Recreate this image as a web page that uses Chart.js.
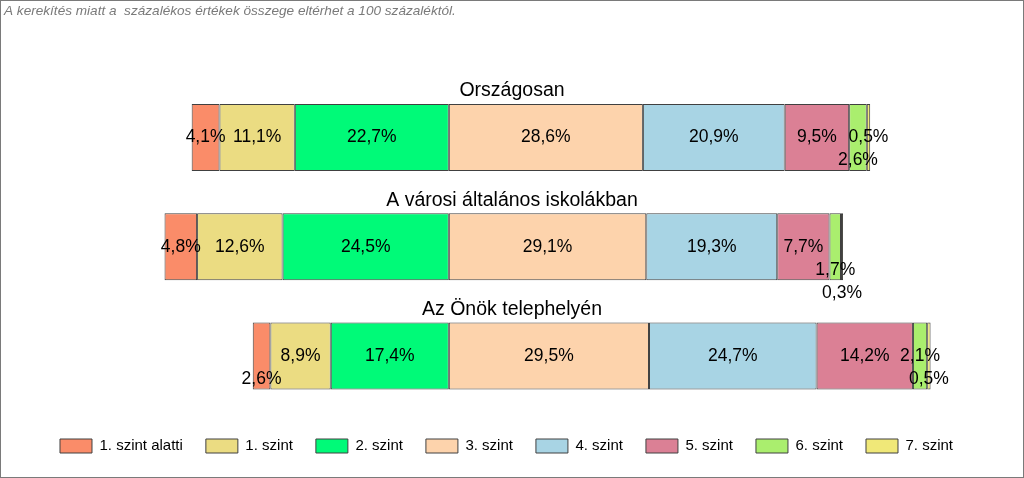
<!DOCTYPE html>
<html>
<head>
<meta charset="utf-8">
<script src="https://cdn.jsdelivr.net/npm/chart.js@4.4.0/dist/chart.umd.min.js"></script>
<style>
    html, body { margin: 0; padding: 0; background: #fff; }
    #wrap { width: 1024px; height: 478px; position: relative; }
</style>
</head>
<body>
<div id="wrap"><canvas id="chartJS1"></canvas></div>
<script>
// categories (one bar each) and level names (one dataset each)
var categories = ['Országosan', 'A városi általános iskolákban', 'Az Önök telephelyén'];
var levelNames = ['1. szint alatti', '1. szint', '2. szint', '3. szint', '4. szint', '5. szint', '6. szint', '7. szint'];

// percentages, in category order
var belowLevel1 = [4.1, 4.8, 2.6];
var level1 = [11.1, 12.6, 8.9];
var level2 = [22.7, 24.5, 17.4];
var level3 = [28.6, 29.1, 29.5];
var level4 = [20.9, 19.3, 24.7];
var level5 = [9.5, 7.7, 14.2];
var level6 = [2.6, 1.7, 2.1];
var level7 = [0.5, 0.3, 0.5];

var note = 'A kerekítés miatt a  százalékos értékek összege eltérhet a 100 százaléktól.';

var levels = [belowLevel1, level1, level2, level3, level4, level5, level6, level7];
var levelColors = ['#FA8C69', '#EBDC82', '#00FA78', '#FDD3AC', '#A8D4E4', '#DB8095', '#AAEE6E', '#F0E878'];

Chart.defaults.font.family = '"Liberation Sans", Arial, sans-serif';

function formatPct(v) {
    return v.toFixed(1).replace('.', ',') + '%';
}

// bars are aligned on the 2. szint / 3. szint boundary
var datasets = [];
var starts = categories.map(function (c, j) {
    return -(belowLevel1[j] + level1[j] + level2[j]);
});
for (var i = 0; i < levels.length; i++) {
    var segs = [];
    for (var j = 0; j < categories.length; j++) {
        segs.push([starts[j], starts[j] + levels[i][j]]);
        starts[j] += levels[i][j];
    }
    datasets.push({
        label: levelNames[i],
        data: segs,
        backgroundColor: levelColors[i],
        borderColor: '#404040',
        borderWidth: 1,
        borderSkipped: false,
        categoryPercentage: 1,
        barPercentage: 0.614
    });
}

var labelPlugin = {
    id: 'segmentLabels',
    afterDatasetsDraw: function (chart, args, opts) {
        var ctx = chart.ctx;
        ctx.save();
        ctx.textAlign = 'center';
        ctx.textBaseline = 'middle';
        ctx.fillStyle = '#000';
        ctx.font = '17.5px "Liberation Sans", Arial, sans-serif';
        chart.data.datasets.forEach(function (ds, i) {
            chart.getDatasetMeta(i).data.forEach(function (bar, j) {
                var p = bar.getProps(['x', 'y', 'base'], true);
                var row = opts.rows[j][i];
                ctx.fillText(formatPct(levels[i][j]), (p.x + p.base) / 2, p.y + row * opts.rowStep);
            });
        });
        // category titles above the bars
        ctx.font = '19.5px "Liberation Sans", Arial, sans-serif';
        chart.getDatasetMeta(0).data.forEach(function (bar, j) {
            var p = bar.getProps(['y', 'height'], true);
            ctx.fillText(categories[j], chart.width / 2, p.y - p.height / 2 - 13);
        });
        ctx.restore();
    },
    afterDraw: function (chart) {
        var ctx = chart.ctx;
        ctx.save();
        ctx.font = 'italic 13.6px "Liberation Sans", Arial, sans-serif';
        ctx.fillStyle = '#7a7a7a';
        ctx.textAlign = 'left';
        ctx.textBaseline = 'middle';
        ctx.fillText(note, 4, 11);
        ctx.strokeStyle = '#7a7a7a';
        ctx.lineWidth = 1;
        ctx.strokeRect(0.5, 0.5, chart.width - 1, chart.height - 1);
        ctx.restore();
    }
};

var ctx1 = document.getElementById('chartJS1').getContext('2d');
var chart1 = new Chart(ctx1, {
    type: 'bar',
    data: {
        labels: categories,
        datasets: datasets
    },
    plugins: [labelPlugin],
    options: {
        indexAxis: 'y',
        animation: false,
        responsive: true,
        maintainAspectRatio: false,
        layout: {
            padding: { top: 83, left: 20, right: 31, bottom: 14.5 }
        },
        plugins: {
            tooltip: { enabled: false },
            legend: {
                position: 'bottom',
                labels: {
                    boxWidth: 32,
                    boxHeight: 14,
                    padding: 23,
                    color: '#000',
                    font: { size: 15 }
                }
            },
            segmentLabels: {
                rowStep: 23,
                // vertical stagger of the labels of narrow segments
                rows: [
                    [0, 0, 0, 0, 0, 0, 1, 0],
                    [0, 0, 0, 0, 0, 0, 1, 2],
                    [1, 0, 0, 0, 0, 0, 0, 1]
                ]
            }
        },
        scales: {
            x: {
                min: -63.2,
                max: 80.2,
                stacked: false,
                ticks: { display: false },
                grid: { display: false },
                border: { display: false },
                afterFit: function (axis) { axis.height = 5; }
            },
            y: {
                display: false,
                stacked: true
            }
        }
    }
});
</script>
</body>
</html>
